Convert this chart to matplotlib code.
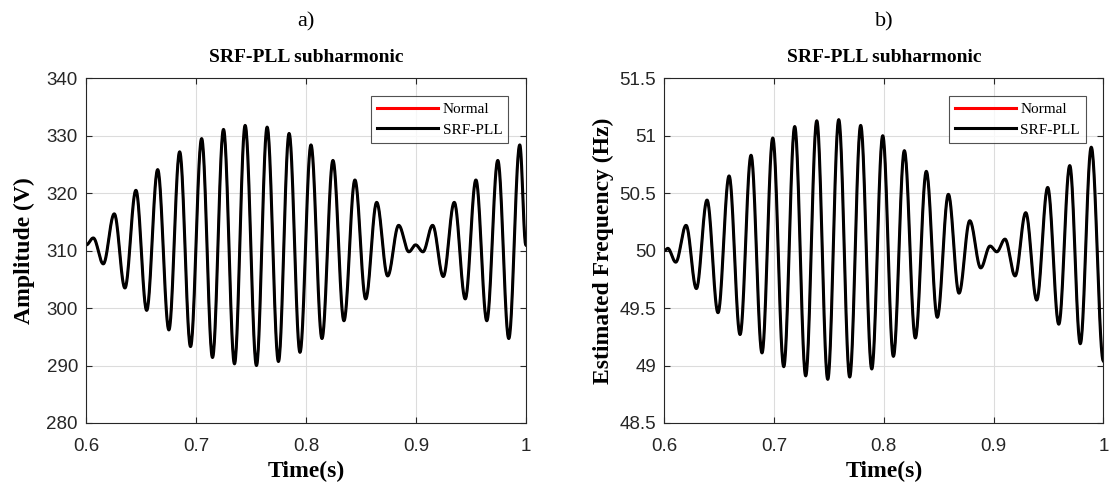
import numpy as np
import matplotlib.pyplot as plt

# extrema (time in s, value)
amp_t = [0.600, 0.6064, 0.6155, 0.6255, 0.6352, 0.6452, 0.6550, 0.6650, 0.6752, 0.6850,
         0.6949, 0.7050, 0.7149, 0.7249, 0.7349, 0.7446, 0.7549, 0.7646, 0.7749, 0.7846,
         0.7945, 0.8045, 0.8145, 0.8245, 0.8345, 0.8445, 0.8543, 0.8643, 0.8743, 0.8843,
         0.8936, 0.8997, 0.9064, 0.9152, 0.9249, 0.9349, 0.9449, 0.9546, 0.9645, 0.9745,
         0.9845, 0.9945, 1.000]
amp_v = [311.0, 312.2, 307.7, 316.4, 303.5, 320.5, 299.6, 324.1, 296.2, 327.2,
         293.3, 329.5, 291.4, 331.1, 290.3, 331.8, 290.0, 331.5, 290.7, 330.4,
         292.3, 328.4, 294.7, 325.7, 297.8, 322.3, 301.6, 318.4, 305.6, 314.4,
         309.8, 311.0, 309.8, 314.4, 305.5, 318.4, 301.6, 322.3, 297.8, 325.7,
         294.7, 328.4, 311.0]

freq_t = [0.600, 0.6031, 0.6104, 0.6198, 0.6292, 0.6389, 0.6489, 0.6590, 0.6690, 0.6790,
          0.6890, 0.6988, 0.7088, 0.7188, 0.7288, 0.7389, 0.7489, 0.7589, 0.7689, 0.7789,
          0.7890, 0.7990, 0.8087, 0.8187, 0.8287, 0.8387, 0.8487, 0.8588, 0.8685, 0.8783,
          0.8883, 0.8968, 0.9029, 0.9104, 0.9196, 0.9293, 0.9393, 0.9493, 0.9594, 0.9694,
          0.9790, 0.9890, 1.000]
freq_v = [50.00, 50.02, 49.90, 50.22, 49.67, 50.44, 49.46, 50.65, 49.27, 50.83,
          49.11, 50.98, 48.99, 51.08, 48.91, 51.13, 48.88, 51.14, 48.90, 51.09,
          48.97, 51.00, 49.08, 50.87, 49.24, 50.69, 49.42, 50.49, 49.63, 50.26,
          49.85, 50.04, 49.99, 50.10, 49.78, 50.33, 49.57, 50.55, 49.36, 50.74,
          49.19, 50.90, 49.04]


def smooth(t, v, n=30):
    # half-cosine segments between consecutive extrema
    xs, ys = [], []
    for i in range(len(t) - 1):
        s = np.linspace(0, 1, n, endpoint=False)
        w = (1 - np.cos(np.pi * s)) / 2
        xs.append(t[i] + (t[i + 1] - t[i]) * s)
        ys.append(v[i] + (v[i + 1] - v[i]) * w)
    xs.append([t[-1]])
    ys.append([v[-1]])
    return np.concatenate(xs), np.concatenate(ys)


serif = 'Liberation Serif'
sans = 'Liberation Sans'

fig = plt.figure(figsize=(11.1, 4.88), dpi=100)
ax1 = fig.add_axes([0.0777, 0.1332, 0.396, 0.7064])
ax2 = fig.add_axes([0.5985, 0.1332, 0.3955, 0.7064])

panels = [
    (ax1, amp_t, amp_v, (280, 340), np.arange(280, 341, 10), 'Amplitude (V)', 'a)', 8),
    (ax2, freq_t, freq_v, (48.5, 51.5), [48.5, 49, 49.5, 50, 50.5, 51, 51.5],
     'Estimated Frequency (Hz)', 'b)', 4),
]

for ax, t, v, ylim, yticks, ylab, tag, ypad in panels:
    x, y = smooth(t, v)
    ax.plot(x, y, color='red', lw=1.4, label='Normal')
    ax.plot(x, y, color='black', lw=2.2, label='SRF-PLL')
    ax.set_xlim(0.6, 1.0)
    ax.set_ylim(*ylim)
    ax.set_xticks([0.6, 0.7, 0.8, 0.9, 1.0])
    ax.set_xticklabels(['0.6', '0.7', '0.8', '0.9', '1'])
    ax.set_yticks(yticks)
    ax.set_yticklabels(['%g' % k for k in yticks])
    ax.grid(True, color='#dcdcdc', lw=0.8)
    ax.set_axisbelow(True)
    ax.tick_params(direction='in', top=True, right=True, length=4,
                   labelsize=13.5, colors='#262626')
    ax.tick_params(axis='x', pad=11)
    ax.tick_params(axis='y', pad=6)
    for lab in ax.get_xticklabels() + ax.get_yticklabels():
        lab.set_family(sans)
    for sp in ax.spines.values():
        sp.set_color('#262626')
        sp.set_linewidth(0.8)
    ax.set_xlabel('Time(s)', family=serif, fontsize=17, fontweight='bold', labelpad=4)
    ax.set_ylabel(ylab, family=serif, fontsize=17, fontweight='bold', labelpad=ypad)
    ax.set_title('SRF-PLL subharmonic', family=serif, fontsize=14, fontweight='bold', pad=12)
    ax.text(0.5, 1.165, tag, transform=ax.transAxes, ha='center', va='center',
            family=serif, fontsize=16)
    leg = ax.legend(loc='upper right', bbox_to_anchor=(0.978, 0.97), fancybox=False,
                    prop={'family': serif, 'size': 11}, handlelength=4.0,
                    borderpad=0.4, labelspacing=0.45, handletextpad=0.3)
    leg.get_frame().set_edgecolor('#262626')
    leg.get_frame().set_linewidth(0.8)
    for h in leg.get_lines():
        h.set_linewidth(2.2)

fig.savefig('out.png', dpi=100)
